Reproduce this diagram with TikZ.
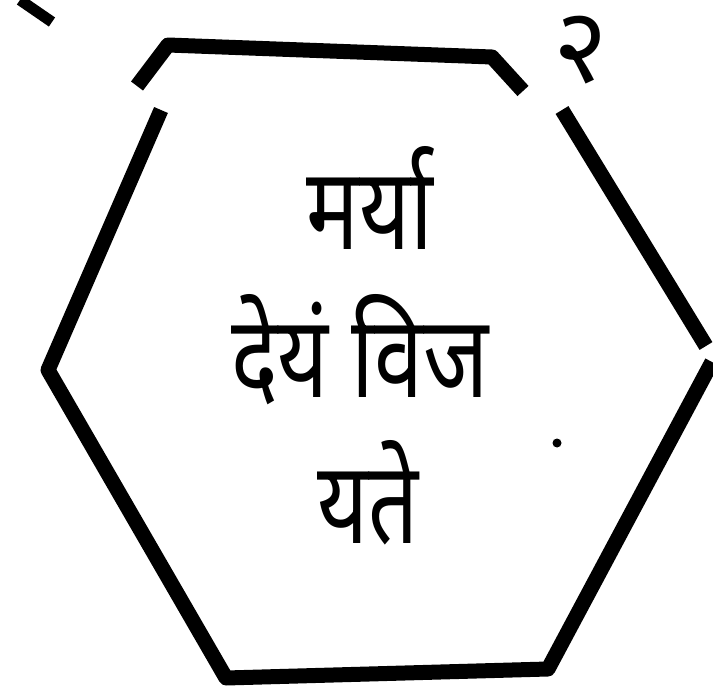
\documentclass[tikz,border=0pt]{standalone}
\usepackage{fontspec}
\newfontfamily\deva[Script=Devanagari]{Noto Sans}
\tikzset{
  edge/.style={line width=15pt, line join=round, line cap=butt},
  txt/.style={font=\deva\fontsize{100}{100}\selectfont, anchor=base, inner sep=0pt},
}
\newcommand{\dtext}[1]{\scalebox{0.88}[1.15]{#1}}
\begin{document}
\begin{tikzpicture}[x=1pt,y=-1pt]
\useasboundingbox (0,0) rectangle (713,698);
% broken hexagon
\coordinate (a1) at (137,86);
\coordinate (a2) at (168,45);
\coordinate (a3) at (492,57);
\coordinate (a4) at (523,91);
\draw[edge] (a1) -- (a2) -- (a3) -- (a4);
\coordinate (b1) at (161,110);
\coordinate (b2) at (48,370);
\coordinate (b3) at (226,678);
\coordinate (b4) at (548,669);
\coordinate (b5) at (712,362);
\draw[edge] (b1) -- (b2) -- (b3) -- (b4) -- (b5);
\coordinate (c1) at (562,110);
\coordinate (c2) at (706,346);
\draw[edge] (c1) -- (c2);
% stroke at top left
\coordinate (s1) at (20,0);
\coordinate (s2) at (52,22);
\draw[line width=11pt] (s1) -- (s2);
% dot
\coordinate (d) at (557,443);
\fill (d) circle[radius=4.5pt];
% texts
\node[txt] (l1) at (370,250) {\dtext{मर्या}};
\node[txt] (l2) at (360,397) {\dtext{देयं विज}};
\node[txt] (l3) at (368,543) {\dtext{यते}};
\node[font=\deva\fontsize{105}{105}\selectfont, inner sep=0pt] (num) at (581,50) {२};
\end{tikzpicture}
\end{document}
